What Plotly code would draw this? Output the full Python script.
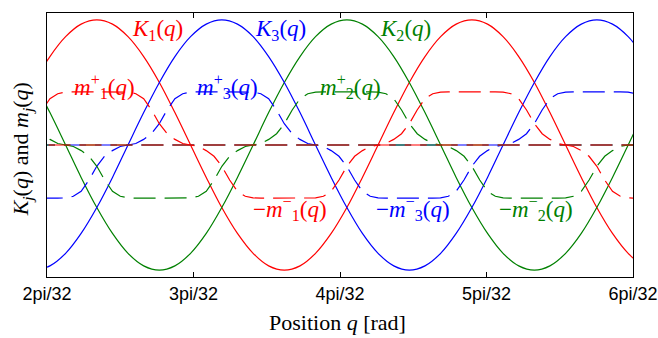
import plotly.graph_objects as go

# Position samples, in units of pi/32 rad
U = [1.913, 2.020, 2.127, 2.233, 2.340, 2.447, 2.553, 2.660, 2.767, 2.873,
     2.980, 3.087, 3.193, 3.300, 3.407, 3.513, 3.620, 3.727, 3.833, 3.940,
     4.047, 4.153, 4.260, 4.367, 4.473, 4.580, 4.687, 4.793, 4.900, 5.007,
     5.113, 5.220, 5.327, 5.433, 5.540, 5.647, 5.753, 5.860, 5.967, 6.073,
     6.180]

K1 = [0.5, 0.707, 0.866, 0.966, 1, 0.966, 0.866, 0.707, 0.5, 0.259,
      0, -0.259, -0.5, -0.707, -0.866, -0.966, -1, -0.966, -0.866, -0.707,
      -0.5, -0.259, 0, 0.259, 0.5, 0.707, 0.866, 0.966, 1, 0.966,
      0.866, 0.707, 0.5, 0.259, 0, -0.259, -0.5, -0.707, -0.866, -0.966, -1]
K3 = [-1, -0.966, -0.866, -0.707, -0.5, -0.259, 0, 0.259, 0.5, 0.707,
      0.866, 0.966, 1, 0.966, 0.866, 0.707, 0.5, 0.259, 0, -0.259,
      -0.5, -0.707, -0.866, -0.966, -1, -0.966, -0.866, -0.707, -0.5, -0.259,
      0, 0.259, 0.5, 0.707, 0.866, 0.966, 1, 0.966, 0.866, 0.707, 0.5]
K2 = [0.5, 0.259, 0, -0.259, -0.5, -0.707, -0.866, -0.966, -1, -0.966,
      -0.866, -0.707, -0.5, -0.259, 0, 0.259, 0.5, 0.707, 0.866, 0.966,
      1, 0.966, 0.866, 0.707, 0.5, 0.259, 0, -0.259, -0.5, -0.707,
      -0.866, -0.966, -1, -0.966, -0.866, -0.707, -0.5, -0.259, 0, 0.259, 0.5]

# Half-lobe shape of the saturated m curves (distance from lobe centre -> value)
LOBE_OFFSET = [0.64, 0.5867, 0.5333, 0.48, 0.4267, 0.3733, 0.32, 0.2667, 0.2133, 0.16]
LOBE_VALUE = [0.0, 0.012, 0.045, 0.09, 0.17, 0.28, 0.37, 0.41, 0.423, 0.425]

# Lobe centres of each m curve
M1P_CENTRES = [2.340, 4.900]
M3P_CENTRES = [3.193, 5.753]
M2P_CENTRES = [1.487, 4.047]
M1N_CENTRES = [1.060, 3.620, 6.180]
M3N_CENTRES = [1.913, 4.473]
M2N_CENTRES = [2.767, 5.327]

TICK_VALS = [2, 3, 4, 5, 6]
TICK_TEXT = ["2pi/32", "3pi/32", "4pi/32", "5pi/32", "6pi/32"]

RED, BLUE, GREEN = "#ff0000", "#0000ff", "#008000"
SERIF = "Liberation Serif"
SANS = "Liberation Sans"


def lobe_curve(centres, sign):
    xs, ys = [0.0], [0.0]
    for c in centres:
        for o, v in zip(LOBE_OFFSET, LOBE_VALUE):
            xs.append(c - o)
            ys.append(sign * v)
        for o, v in zip(reversed(LOBE_OFFSET), reversed(LOBE_VALUE)):
            xs.append(c + o)
            ys.append(sign * v)
    xs.append(7.5)
    ys.append(0.0)
    return xs, ys


fig = go.Figure()
for ys, col in [(K1, RED), (K2, GREEN), (K3, BLUE)]:
    fig.add_trace(go.Scatter(x=U, y=ys, mode="lines",
                             line=dict(color=col, width=1.2, shape="spline"),
                             showlegend=False, hoverinfo="skip"))

for centres, sign, col in [(M3P_CENTRES, 1, BLUE), (M3N_CENTRES, -1, BLUE),
                           (M2P_CENTRES, 1, GREEN), (M2N_CENTRES, -1, GREEN),
                           (M1P_CENTRES, 1, RED), (M1N_CENTRES, -1, RED)]:
    xs, ys = lobe_curve(centres, sign)
    fig.add_trace(go.Scatter(x=xs, y=ys, mode="lines",
                             line=dict(color=col, width=1.2, dash="22px,9px"),
                             showlegend=False, hoverinfo="skip"))

ann = []


def label(x, y, text, col, size=23):
    ann.append(dict(x=x, y=y, xref="x", yref="y", text=text, showarrow=False,
                    font=dict(family=SERIF, size=size, color=col),
                    xanchor="center", yanchor="middle"))


# K labels
label(2.757, 0.92, "<i>K</i><sub>1</sub>(<i>q</i>)", RED)
label(3.596, 0.92, "<i>K</i><sub>3</sub>(<i>q</i>)", BLUE)
label(4.444, 0.92, "<i>K</i><sub>2</sub>(<i>q</i>)", GREEN)

# m+ labels
for x, n, col in [(2.393, "1", RED), (3.231, "3", BLUE), (4.075, "2", GREEN)]:
    label(x, 0.47, "<i>m</i><sup>+</sup><sub>%s</sub>(<i>q</i>)" % n, col)

# -m- labels
for x, n, col in [(3.657, "1", RED), (4.495, "3", BLUE), (5.336, "2", GREEN)]:
    label(x, -0.51, "\u2212<i>m</i><sup>\u2212</sup><sub>%s</sub>(<i>q</i>)" % n, col)

# axis titles
ann.append(dict(x=0.496, y=-0.173, xref="paper", yref="paper",
                text="Position <i>q</i> [rad]", showarrow=False,
                font=dict(family=SERIF, size=22, color="black"),
                xanchor="center", yanchor="middle"))
ann.append(dict(x=-0.042, y=0.485, xref="paper", yref="paper",
                text="<i>K</i><sub><i>j</i></sub>(<i>q</i>) and <i>m</i><sub><i>j</i></sub>(<i>q</i>)",
                showarrow=False, textangle=-90,
                font=dict(family=SERIF, size=22, color="black"),
                xanchor="center", yanchor="middle"))

fig.update_layout(
    width=658, height=338,
    margin=dict(l=47, r=25, t=13, b=61, autoexpand=False),
    plot_bgcolor="white", paper_bgcolor="white",
    annotations=ann,
    xaxis=dict(range=[2, 6], tickvals=TICK_VALS, ticktext=TICK_TEXT,
               ticks="inside", ticklen=5, tickwidth=1.2, tickcolor="black",
               showline=True, linecolor="black", linewidth=1.4, mirror="ticks",
               showgrid=False, zeroline=False, automargin=False,
               tickfont=dict(family=SANS, size=18, color="black")),
    yaxis=dict(range=[-1.055, 1.055], showticklabels=False, ticks="",
               showline=True, linecolor="black", linewidth=1.4, mirror=True,
               showgrid=False, zeroline=False, automargin=False),
)

fig.write_html("out.html")
